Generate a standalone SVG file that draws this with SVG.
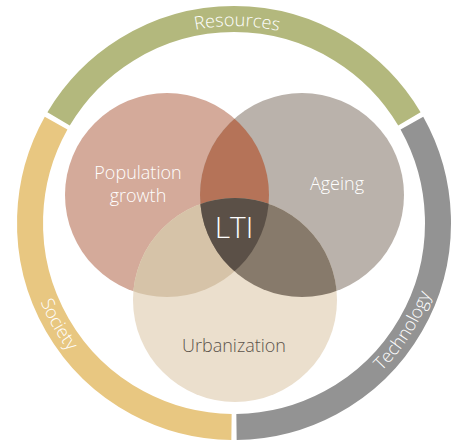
<svg xmlns="http://www.w3.org/2000/svg" width="452" height="442" viewBox="0 0 452 442">
<style>
.ring{fill:none;stroke-width:26;stroke-linecap:butt}
.lbl{font-family:"Open Sans","Noto Sans","Liberation Sans",sans-serif;font-weight:300;fill:#ffffff;font-size:18px}
.rl{font-family:"Open Sans","Noto Sans","Liberation Sans",sans-serif;font-weight:300;fill:#ffffff;font-size:18px}
</style>
<defs>
<clipPath id="cA"><circle cx="167" cy="195" r="102"/></clipPath>
<clipPath id="cB"><circle cx="302" cy="195" r="102"/></clipPath>
<clipPath id="cC"><circle cx="235" cy="300" r="102"/></clipPath>
<path id="pRes" d="M63.4,124.5 A197,197 0 0 1 404.6,124.5"/>
<path id="pSoc" d="M25,223 A209,209 0 0 0 129.5,404"/>
<path id="pTech" d="M330.5,408.4 A209,209 0 0 0 442.8,232.1"/>
</defs>
<rect width="452" height="442" fill="#ffffff"/>
<g id="resources">
<path class="ring" stroke="#b3b87d" d="M58.6,118.9 A204,204 0 0 1 409.4,118.9"/>
<text class="rl" text-anchor="middle" dx="3"><textPath href="#pRes" startOffset="50%">Resources</textPath></text>
</g>
<g id="technology">
<path class="ring" stroke="#939393" d="M411.9,123.2 A204,204 0 0 1 236.5,427"/>
<text class="rl" text-anchor="middle"><textPath href="#pTech" startOffset="50%">Technology</textPath></text>
</g>
<g id="society">
<path class="ring" stroke="#e8c781" d="M231.5,427 A204,204 0 0 1 56.1,123.2"/>
<text class="rl" text-anchor="middle"><textPath href="#pSoc" startOffset="50%">Society</textPath></text>
</g>
<g id="population-growth">
<circle cx="167" cy="195" r="102" fill="#d4aa9a"/>
</g>
<g id="ageing">
<circle cx="302" cy="195" r="102" fill="#bab2ab"/>
</g>
<g id="urbanization">
<circle cx="235" cy="300" r="102" fill="#ebdfcd"/>
</g>
<g id="overlaps">
<g clip-path="url(#cA)"><circle cx="302" cy="195" r="102" fill="#b57358"/></g>
<g clip-path="url(#cA)"><circle cx="235" cy="300" r="102" fill="#d6c3a8"/></g>
<g clip-path="url(#cB)"><circle cx="235" cy="300" r="102" fill="#877a6b"/></g>
<g clip-path="url(#cA)"><g clip-path="url(#cB)"><circle cx="235" cy="300" r="102" fill="#5b5047"/></g></g>
</g>
<g id="labels">
<text class="lbl" x="138" y="179" text-anchor="middle">Population</text>
<text class="lbl" x="138" y="202" text-anchor="middle">growth</text>
<text class="lbl" x="337" y="190" text-anchor="middle">Ageing</text>
<text class="lbl" x="234" y="352" text-anchor="middle" style="fill:#5b534b">Urbanization</text>
</g>
<g id="lti">
<text class="lbl" x="234" y="238" text-anchor="middle" style="font-size:30px">LTI</text>
</g>
</svg>
